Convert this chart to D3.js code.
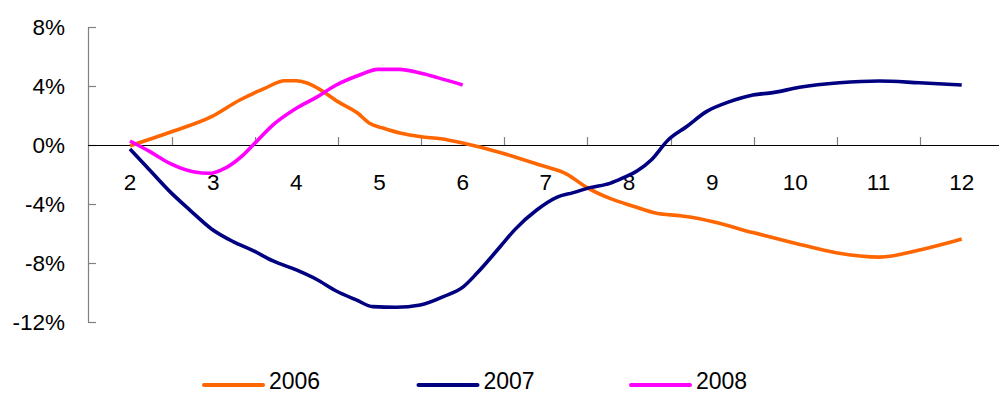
<!DOCTYPE html>
<html><head><meta charset="utf-8">
<script src="https://cdn.jsdelivr.net/npm/d3@7"></script>
<style>html,body{margin:0;padding:0;background:#fff;overflow:hidden}</style>
</head><body>
<svg id="c" width="999" height="394"></svg>
<script>
const categories = [2,3,4,5,6,7,8,9,10,11,12];
const yTicks = [8,4,0,-4,-8,-12];
const seriesNames = ["2006","2007","2008"];
const seriesColors = ["#FF6600","#000080","#FF00FF"];

const x2006 = [2.0,2.5,2.98,3.32,3.62,3.86,4.0,4.12,4.26,4.5,4.74,4.88,5.04,5.26,5.5,5.74,6.0,6.47,6.93,7.25,7.49,7.77,8.05,8.33,8.61,8.73,9.01,9.49,9.97,10.49,11.01,11.49,12.0];
const y2006 = [-0.05,0.9,1.92,3.05,3.84,4.36,4.36,4.22,3.84,2.94,2.15,1.47,1.15,0.79,0.56,0.42,0.13,-0.54,-1.36,-1.97,-2.87,-3.62,-4.15,-4.63,-4.79,-4.88,-5.2,-5.94,-6.62,-7.3,-7.6,-7.12,-6.37];

const x2007 = [2.0,2.2,2.48,2.72,2.98,3.24,3.48,3.72,4.0,4.24,4.48,4.72,4.92,5.2,5.49,5.77,6.01,6.17,6.45,6.63,6.89,7.13,7.33,7.53,7.77,7.92,8.1,8.27,8.47,8.69,8.93,9.21,9.49,9.73,10.05,10.53,11.01,11.49,12.0];
const y2007 = [-0.27,-1.47,-3.16,-4.41,-5.69,-6.55,-7.16,-7.86,-8.47,-9.1,-9.9,-10.5,-10.96,-11.0,-10.85,-10.28,-9.6,-8.7,-6.9,-5.72,-4.41,-3.55,-3.23,-2.89,-2.6,-2.25,-1.75,-1.0,0.34,1.24,2.26,2.94,3.39,3.55,3.91,4.22,4.34,4.22,4.07];

const x2008 = [2.0,2.24,2.48,2.76,2.96,3.1,3.36,3.52,3.72,4.0,4.24,4.48,4.76,4.98,5.24,5.5,5.77,6.0];
const y2008 = [0.27,-0.45,-1.24,-1.81,-1.92,-1.69,-0.68,0.23,1.36,2.49,3.23,4.07,4.75,5.13,5.13,4.86,4.45,4.07];

const seriesX = [x2006,x2007,x2008];
const seriesY = [y2006,y2007,y2008];

const svg = d3.select("#c");
const x = d3.scaleLinear().domain([1.5,12.5]).range([88.4,1003.3]);
const y = d3.scaleLinear().domain([-12,8]).range([322,27]);
const font = "'Liberation Sans', Arial, sans-serif";

// y axis
const ya = svg.append("g").attr("transform","translate(88,0)")
  .call(d3.axisRight(y).tickValues(yTicks).tickSize(8).tickFormat(""));
ya.select(".domain").attr("stroke","#808080").attr("stroke-width",1.2).attr("d","M0.5,27V322");
ya.selectAll(".tick line").attr("stroke","#808080").attr("stroke-width",1.2);
svg.append("g").selectAll("text").data(yTicks).join("text")
  .attr("x",65).attr("y",d=>y(d)).attr("dy","0.36em")
  .attr("text-anchor","end").attr("font-family",font).attr("font-size",22.5)
  .attr("fill","#000").text(d=>d+"%");

// x axis
const bounds = d3.range(2.5,12.5,1);
const xa = svg.append("g").attr("transform","translate(0,"+y(0)+")");
xa.append("line").attr("x1",88).attr("x2",1003).attr("y1",0.5).attr("y2",0.5)
  .attr("stroke","#000").attr("stroke-width",1.2);
xa.selectAll("line.t").data(bounds).join("line").attr("class","t")
  .attr("x1",d=>Math.round(x(d))+0.5).attr("x2",d=>Math.round(x(d))+0.5)
  .attr("y1",-8).attr("y2",0).attr("stroke","#808080").attr("stroke-width",1.2);
svg.append("g").selectAll("text").data(categories).join("text")
  .attr("x",d=>x(d)).attr("y",190).attr("text-anchor","middle")
  .attr("font-family",font).attr("font-size",22.5).attr("fill","#000").text(d=>d);

// lines
const line = d3.line().x(d=>x(d[0])).y(d=>y(d[1])).curve(d3.curveMonotoneX);
seriesNames.forEach((n,i)=>{
  const pts = seriesX[i].map((v,j)=>[v,seriesY[i][j]]);
  svg.append("path").datum(pts).attr("d",line).attr("fill","none")
    .attr("stroke",seriesColors[i]).attr("stroke-width",3.6)
    .attr("stroke-linejoin","round").attr("stroke-linecap","butt");
});

// legend
const legX = [204,418.5,631];
const lg = svg.append("g");
seriesNames.forEach((n,i)=>{
  lg.append("line").attr("x1",legX[i]).attr("x2",legX[i]+59).attr("y1",385).attr("y2",385)
    .attr("stroke",seriesColors[i]).attr("stroke-width",4).attr("stroke-linecap","round");
  lg.append("text").attr("x",legX[i]+65).attr("y",388.5).attr("font-family",font)
    .attr("font-size",23).attr("fill","#000").text(n);
});
</script>
</body></html>
